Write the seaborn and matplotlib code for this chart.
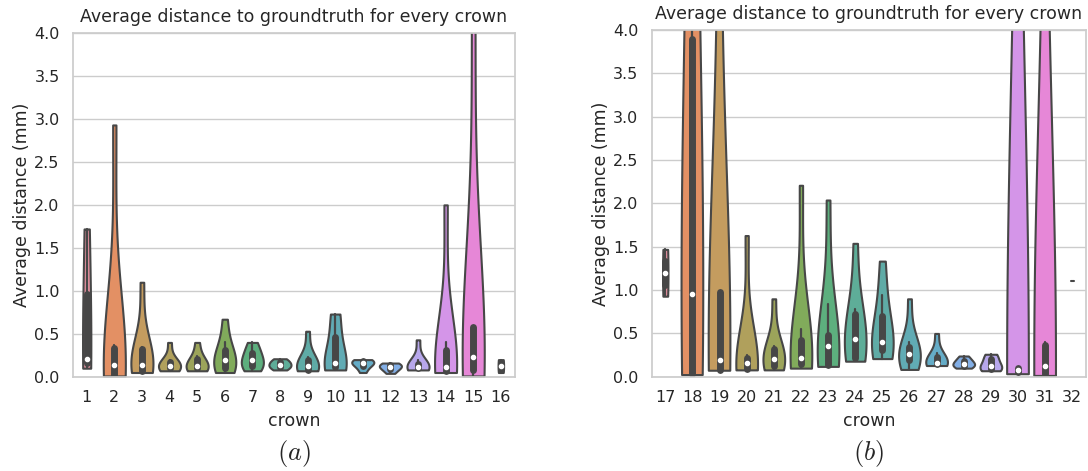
import numpy as np
import pandas as pd
import matplotlib
matplotlib.use("Agg")
import matplotlib.pyplot as plt
import seaborn as sns

# ---- data: per-crown average distances (mm) ----
crown_01 = [0.10, 0.21, 1.72]
crown_02 = [0.01, 0.015, 0.02, 0.10, 0.18, 0.32, 0.37, 2.93]
crown_03 = [0.05, 0.06, 0.07, 0.12, 0.16, 0.32, 0.35, 1.10]
crown_04 = [0.07, 0.09, 0.10, 0.12, 0.14, 0.16, 0.19, 0.40]
crown_05 = [0.07, 0.09, 0.10, 0.11, 0.13, 0.19, 0.24, 0.40]
crown_06 = [0.05, 0.08, 0.11, 0.17, 0.21, 0.28, 0.40, 0.67]
crown_07 = [0.07, 0.10, 0.13, 0.17, 0.21, 0.26, 0.33, 0.40]
crown_08 = [0.08, 0.10, 0.12, 0.13, 0.15, 0.17, 0.19, 0.21]
crown_09 = [0.07, 0.08, 0.085, 0.11, 0.13, 0.19, 0.23, 0.53]
crown_10 = [0.08, 0.10, 0.12, 0.14, 0.17, 0.38, 0.70, 0.73]
crown_11 = [0.05, 0.10, 0.14, 0.15, 0.17, 0.18, 0.19, 0.20]
crown_12 = [0.04, 0.07, 0.10, 0.11, 0.12, 0.14, 0.15, 0.16]
crown_13 = [0.08, 0.09, 0.10, 0.11, 0.12, 0.14, 0.19, 0.43]
crown_14 = [0.05, 0.06, 0.07, 0.09, 0.13, 0.28, 0.41, 2.00]
crown_15 = [0.01, 0.03, 0.09, 0.18, 0.28, 0.30, 1.40, 4.30]
crown_16 = [0.05, 0.20]

crown_17 = [0.93, 1.47]
crown_18 = [0.02, 0.03, 0.04, 0.06, 1.86, 3.50, 5.10, 9.00]
crown_19 = [0.07, 0.08, 0.085, 0.15, 0.23, 0.50, 2.40, 7.00]
crown_20 = [0.08, 0.09, 0.095, 0.13, 0.18, 0.21, 0.25, 1.63]
crown_21 = [0.08, 0.11, 0.13, 0.19, 0.23, 0.31, 0.36, 0.90]
crown_22 = [0.10, 0.12, 0.15, 0.20, 0.24, 0.38, 0.55, 2.21]
crown_23 = [0.12, 0.13, 0.14, 0.34, 0.36, 0.37, 0.84, 2.04]
crown_24 = [0.18, 0.20, 0.22, 0.40, 0.48, 0.70, 0.78, 1.54]
crown_25 = [0.21, 0.28, 0.32, 0.38, 0.42, 0.62, 0.94, 1.335]
crown_26 = [0.085, 0.16, 0.20, 0.24, 0.28, 0.33, 0.40, 0.90]
crown_27 = [0.13, 0.14, 0.15, 0.155, 0.165, 0.22, 0.27, 0.50]
crown_28 = [0.10, 0.12, 0.13, 0.14, 0.16, 0.18, 0.21, 0.24]
crown_29 = [0.07, 0.08, 0.10, 0.11, 0.13, 0.20, 0.24, 0.26]
crown_30 = [0.03, 0.05, 0.06, 0.07, 0.09, 0.10, 0.11, 12.0]
crown_31 = [0.01, 0.02, 0.03, 0.10, 0.16, 0.36, 0.40, 10.0]
crown_32 = [1.10]

crowns_a = [str(i) for i in range(1, 17)]
crowns_b = [str(i) for i in range(17, 33)]
values_a = [crown_01, crown_02, crown_03, crown_04, crown_05, crown_06, crown_07, crown_08,
            crown_09, crown_10, crown_11, crown_12, crown_13, crown_14, crown_15, crown_16]
values_b = [crown_17, crown_18, crown_19, crown_20, crown_21, crown_22, crown_23, crown_24,
            crown_25, crown_26, crown_27, crown_28, crown_29, crown_30, crown_31, crown_32]

y_ticks = [0.0, 0.5, 1.0, 1.5, 2.0, 2.5, 3.0, 3.5, 4.0]
title = "Average distance to groundtruth for every crown"
captions = ["$(a)$", "$(b)$"]

sns.set_theme(style="whitegrid")
plt.rcParams["mathtext.fontset"] = "cm"

fig = plt.figure(figsize=(10.88, 4.71), dpi=100)
ax_a = fig.add_axes([0.067, 0.200, 0.406, 0.730])
ax_b = fig.add_axes([0.599, 0.200, 0.399, 0.736])

# husl palette, desaturated and slightly lightened
base_colors = [tuple(0.86 * np.array(c) + 0.14)
               for c in sns.color_palette("husl", 16, desat=0.75)]
full_width = 0.8

for ax, names, vals, cap in [(ax_a, crowns_a, values_a, captions[0]),
                             (ax_b, crowns_b, values_b, captions[1])]:
    max_n = max(len(v) for v in vals)
    pal = dict(zip(names, base_colors))
    # violins sharing a sample count are drawn together; width follows the count
    for n in sorted(set(len(v) for v in vals)):
        rows = [(c, x) for c, v in zip(names, vals) if len(v) == n for x in v]
        df = pd.DataFrame(rows, columns=["crown", "dist"])
        sns.violinplot(data=df, x="crown", y="dist", hue="crown", order=names,
                       hue_order=[c for c, v in zip(names, vals) if len(v) == n],
                       palette=pal, saturation=1, legend=False,
                       density_norm="width", width=full_width * n / max_n,
                       cut=0, bw_adjust=1.25, inner="box", linewidth=1.5,
                       linecolor="#474747",
                       inner_kws=dict(box_width=5, whis_width=1.6,
                                      marker="o", markersize=3),
                       ax=ax)
    ax.set_xlim(-0.5, len(names) - 0.5)
    ax.set_ylim(0, 4.0)
    ax.set_yticks(y_ticks)
    ax.set_yticklabels([f"{t:.1f}" for t in y_ticks], fontsize=11.5)
    ax.tick_params(axis="x", labelsize=11.5)
    ax.set_xlabel("crown", fontsize=12.5, labelpad=5)
    ax.set_ylabel("Average distance (mm)", fontsize=12.5, labelpad=2)
    ax.set_title(title, fontsize=12.5, pad=8)
    pos = ax.get_position()
    fig.text((pos.x0 + pos.x1) / 2, 0.038, cap, ha="center", va="center", fontsize=19)

fig.savefig("out.png", dpi=100)
